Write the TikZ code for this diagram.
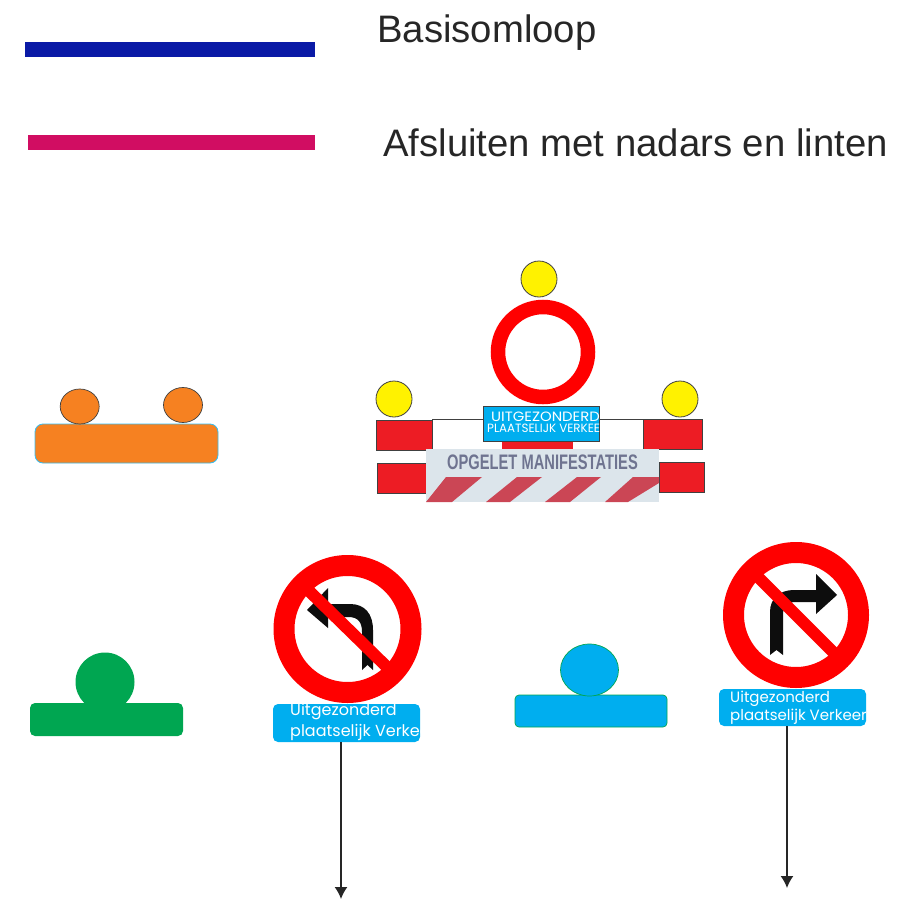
\documentclass[tikz,border=0pt]{standalone}
\usepackage{fontspec}
\usepackage{graphicx}
\usetikzlibrary{arrows.meta,shapes.geometric}
\setmainfont{Liberation Sans}
\newfontfamily\signfont{Poppins}
\definecolor{navy}{HTML}{0A1AA6}
\definecolor{magentared}{HTML}{D10D62}
\definecolor{barred}{HTML}{ED1C24}
\definecolor{signred}{HTML}{FF0000}
\definecolor{lampyellow}{HTML}{FFF200}
\definecolor{orangebar}{HTML}{F68121}
\definecolor{greenbar}{HTML}{00A651}
\definecolor{cyanbar}{HTML}{00AEEF}
\definecolor{signgrey}{HTML}{DCE5EB}
\definecolor{signtext}{HTML}{6F7490}
\definecolor{stripe}{HTML}{CB4655}
\definecolor{edge}{HTML}{404040}
\tikzset{
  legendline/.style={line width=15pt},
  legendtext/.style={anchor=west,inner sep=0pt,font=\fontsize{38.3}{38.3}\selectfont,text=black!85},
  box/.style={rectangle,inner sep=0pt,outer sep=0pt},
  lamp/.style={circle,inner sep=0pt,outer sep=0pt,draw=edge,line width=0.8pt,fill=lampyellow},
  orangelamp/.style={ellipse,inner sep=0pt,outer sep=0pt,draw=edge,line width=0.7pt,fill=orangebar,minimum width=39pt,minimum height=35pt},
  redblock/.style={box,fill=barred,draw=edge,line width=0.7pt},
  ring/.style={circle,inner sep=0pt,outer sep=0pt,draw=signred,fill=white},
  plate/.style={box,rounded corners=5pt,fill=cyanbar},
  platetext/.style={anchor=west,inner sep=0pt,text=white,font=\signfont\fontsize{15}{15}\selectfont},
  capstext/.style={anchor=west,inner sep=0pt,text=white,font=\signfont},
  pole/.style={draw=black!85,line width=1.4pt,-{Latex[length=12pt,width=13pt]}},
  nosign/.style={fill=black!95}
}
\begin{document}
\begin{tikzpicture}[x=1pt,y=-1pt]
\useasboundingbox (0,0) rectangle (897,899);
% legend
\coordinate (l1a) at (25,50); \coordinate (l1b) at (315,50);
\coordinate (l2a) at (28,142); \coordinate (l2b) at (315,142);
\draw[legendline,navy] (l1a) -- (l1b);
\draw[legendline,magentared] (l2a) -- (l2b);
\node[legendtext] (t1) at (377,33) {Basisomloop};
\node[legendtext] (t2) at (383,143) {Afsluiten met nadars en linten};
% orange barrier
\node[box,rounded corners=8pt,fill=orangebar,draw=cyan!80,line width=0.8pt,minimum width=183pt,minimum height=39pt] (ob) at (126.5,443.5) {};
\node[orangelamp] (oc1) at (79.7,406.5) {};
\node[orangelamp] (oc2) at (183,405) {};
% central barrier
\node[box,fill=white,draw=edge,line width=0.7pt,minimum width=211pt,minimum height=31pt] (wb) at (537.5,434.5) {};
\node[redblock,minimum width=56pt,minimum height=30pt] (r1) at (404,435) {};
\node[redblock,minimum width=59pt,minimum height=30pt] (r2) at (672.5,434) {};
\node[redblock,minimum width=50pt,minimum height=30pt] (r3) at (402,478) {};
\node[redblock,minimum width=45pt,minimum height=30pt] (r4) at (681.5,477) {};
\node[box,fill=barred,minimum width=71pt,minimum height=9pt] (r5) at (537.5,445) {};
\node[box,fill=cyanbar,draw=edge,line width=0.7pt,minimum width=116pt,minimum height=35pt] (pb) at (541,423.5) {};
\node[capstext] (pt1) at (491,417) {\fontsize{13.5}{13.5}\selectfont\scalebox{1.1}[1]{UITGEZONDERD}};
\node[capstext] (pt2) at (487,428.5) {\fontsize{12}{12}\selectfont\scalebox{0.99}[1]{PLAATSELIJK VERKEE}};
\node[lamp,minimum size=36pt] (y1) at (539,279) {};
\node[lamp,minimum size=36pt] (y2) at (394,399) {};
\node[lamp,minimum size=36pt] (y3) at (680,399) {};
\node[ring,line width=14.5pt,minimum size=90pt] (rr) at (543,352) {};
% manifest sign
\node[box,fill=signgrey,minimum width=233pt,minimum height=53pt] (ms) at (542.5,475.5) {};
\fill[stripe] (446,477) -- (482,477) -- (452,502) -- (426,502) -- cycle;
\fill[stripe] (517,477) -- (542,477) -- (510,502) -- (486,502) -- cycle;
\fill[stripe] (577,477) -- (601,477) -- (570,502) -- (545,502) -- cycle;
\fill[stripe] (633,477) -- (659,477) -- (659,483) -- (628,502) -- (605,502) -- cycle;
\node[inner sep=0pt,text=signtext] (mt) at (542.5,462.5) {\scalebox{0.7}[1]{\fontsize{21}{21}\selectfont\bfseries OPGELET MANIFESTATIES}};
% green and blue barriers
\node[box,rounded corners=5pt,fill=greenbar,minimum width=153pt,minimum height=33pt] (gb) at (106.5,719.5) {};
\node[circle,inner sep=0pt,fill=greenbar,minimum size=59pt] (gc) at (105,682) {};
\node[box,rounded corners=4pt,fill=cyanbar,draw=greenbar,line width=0.7pt,minimum width=152pt,minimum height=32pt] (bb) at (591,711) {};
\node[ellipse,inner sep=0pt,fill=cyanbar,draw=greenbar,line width=0.7pt,minimum width=58pt,minimum height=52pt] (bc) at (589.5,670) {};
% left sign
\node[ring,line width=21pt,minimum size=127pt] (ls) at (347.5,629) {};
\fill[nosign] (362,670) -- (362,632) .. controls (362,622) and (358,617) .. (348,617) -- (328,617) -- (328,628) -- (307,610) -- (328,588) -- (328,604) -- (350,604) .. controls (365,604) and (373,614) .. (373,630) -- (373,670) -- (367.5,665) -- cycle;
\coordinate (lsa) at (305,587); \coordinate (lsb) at (390,670);
\draw[signred,line width=12pt] (lsa) -- (lsb);
\node[plate,minimum width=147pt,minimum height=38pt] (lp) at (346.5,723) {};
\node[platetext,font=\signfont\fontsize{16}{16}\selectfont] (lp1) at (290,712) {Uitgezonderd};
\node[platetext,font=\signfont\fontsize{16}{16}\selectfont] (lp2) at (290,732) {plaatselijk Verkee};
\coordinate (la) at (341,899);
\draw[pole] (lp.south -| la) -- (la);
% right sign
\node[ring,line width=21pt,minimum size=125pt] (rs) at (796,615) {};
\fill[nosign] (770,655) -- (770,612) .. controls (770,598) and (780,590) .. (794,590) -- (816,590) -- (816,574) -- (837,595) -- (816,614) -- (816,602) -- (796,602) .. controls (787,602) and (783,606) .. (783,615) -- (783,655) -- (776.5,650) -- cycle;
\coordinate (rsa) at (755,574); \coordinate (rsb) at (836,655);
\draw[signred,line width=12pt] (rsa) -- (rsb);
\node[plate,minimum width=147pt,minimum height=37pt] (rp) at (792.5,707.5) {};
\node[platetext] (rp1) at (730,699) {Uitgezonderd};
\node[platetext] (rp2) at (730,716.5) {plaatselijk Verkeer};
\coordinate (ra) at (787,888);
\draw[pole] (rp.south -| ra) -- (ra);
\end{tikzpicture}
\end{document}
